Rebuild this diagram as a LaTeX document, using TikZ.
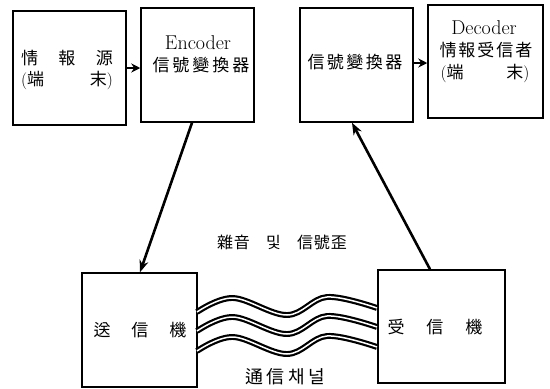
\documentclass[tikz,border=0pt]{standalone}
\usepackage{fontspec}
\newfontfamily\cjk{Noto Sans CJK KR}
\usetikzlibrary{arrows.meta}
\begin{document}
\begin{tikzpicture}[x=1pt,y=-1pt,
  box/.style={draw,line width=1.5pt,inner sep=0pt,minimum width=#1},
  box/.default=113pt,
  lbl/.style={inner sep=0pt,font=\cjk\fontsize{17}{20}\selectfont},
  lat/.style={inner sep=0pt,font=\fontsize{20}{24}\selectfont},
  arr/.style={line width=2.6pt,-{Stealth[length=12pt,width=9pt]}},
  harr/.style={line width=2.8pt,-{Stealth[length=9pt,width=9pt]}},
  wave/.style={line width=2.2pt,double=white,double distance=1.5pt}]
\useasboundingbox (0,0) rectangle (550,389);
% boxes
\node[box, minimum height=114pt] (src) at (69.5,68) {};
\node[box, minimum height=114pt] (enc) at (197.5,65) {};
\node[box, minimum height=114pt] (conv) at (356.5,65) {};
\node[box=115pt, minimum height=113pt] (dec) at (485.5,61.5) {};
\node[box=115pt, minimum height=114pt] (send) at (139.5,330) {};
\node[box=127pt, minimum height=113pt] (recv) at (441.5,326.5) {};
% texts
\node[lbl] (t1) at (67,58) {\makebox[92pt][s]{情\hfill 報\hfill 源}};
\node[lbl] (t2) at (67,80) {\makebox[92pt][s]{\normalfont(\cjk 端\hfill 末\normalfont)}};
\node[lat] (t3) at (198,43) {Encoder};
\node[lbl] (t4) at (201,65) {\makebox[97pt][s]{信\hfill 號\hfill 變\hfill 換\hfill 器}};
\node[lbl] (t5) at (355,62) {\makebox[95pt][s]{信\hfill 號\hfill 變\hfill 換\hfill 器}};
\node[lat] (t6) at (484,28) {Decoder};
\node[lbl] (t7) at (486,50) {\makebox[93pt][s]{情\hfill 報\hfill 受\hfill 信\hfill 者}};
\node[lbl] (t8) at (485,73) {\makebox[89pt][s]{\normalfont(\cjk 端\hfill 末\normalfont)}};
\node[lbl] (t9) at (140,330) {\makebox[93pt][s]{送\hfill 信\hfill 機}};
\node[lbl] (t10) at (435,327) {\makebox[95pt][s]{受\hfill 信\hfill 機}};
\node[lbl,font=\cjk\fontsize{16}{19}\selectfont] (noise) at (282,242) {\makebox[130pt][s]{雜\hspace{1pt}音\hfill 및\hfill 信\hspace{1pt}號\hspace{1pt}歪}};
\node[lbl,font=\cjk\fontsize{18}{21}\selectfont] (chan) at (285,377) {\makebox[80pt][s]{通\hfill 信\hfill 채\hfill 널}};
% arrows
\draw[harr] (src.east) -- (src.east -| enc.west);
\draw[harr] ([yshift=2pt]conv.east) -- ([yshift=2pt]conv.east -| dec.west);
\draw[arr] ([xshift=-5.5pt]enc.south) -- ([xshift=0.5pt]send.north);
\draw[arr] ([xshift=-11.5pt]recv.north) -- ([xshift=-4.5pt]conv.south);
% waves
\foreach \d in {0,19,39}{
  \draw[wave] plot[smooth,tension=0.6] coordinates
    {(197,312+\d) (233,298+\d) (287,315+\d) (327,297+\d) (377,308+\d)};
}
\end{tikzpicture}
\end{document}
